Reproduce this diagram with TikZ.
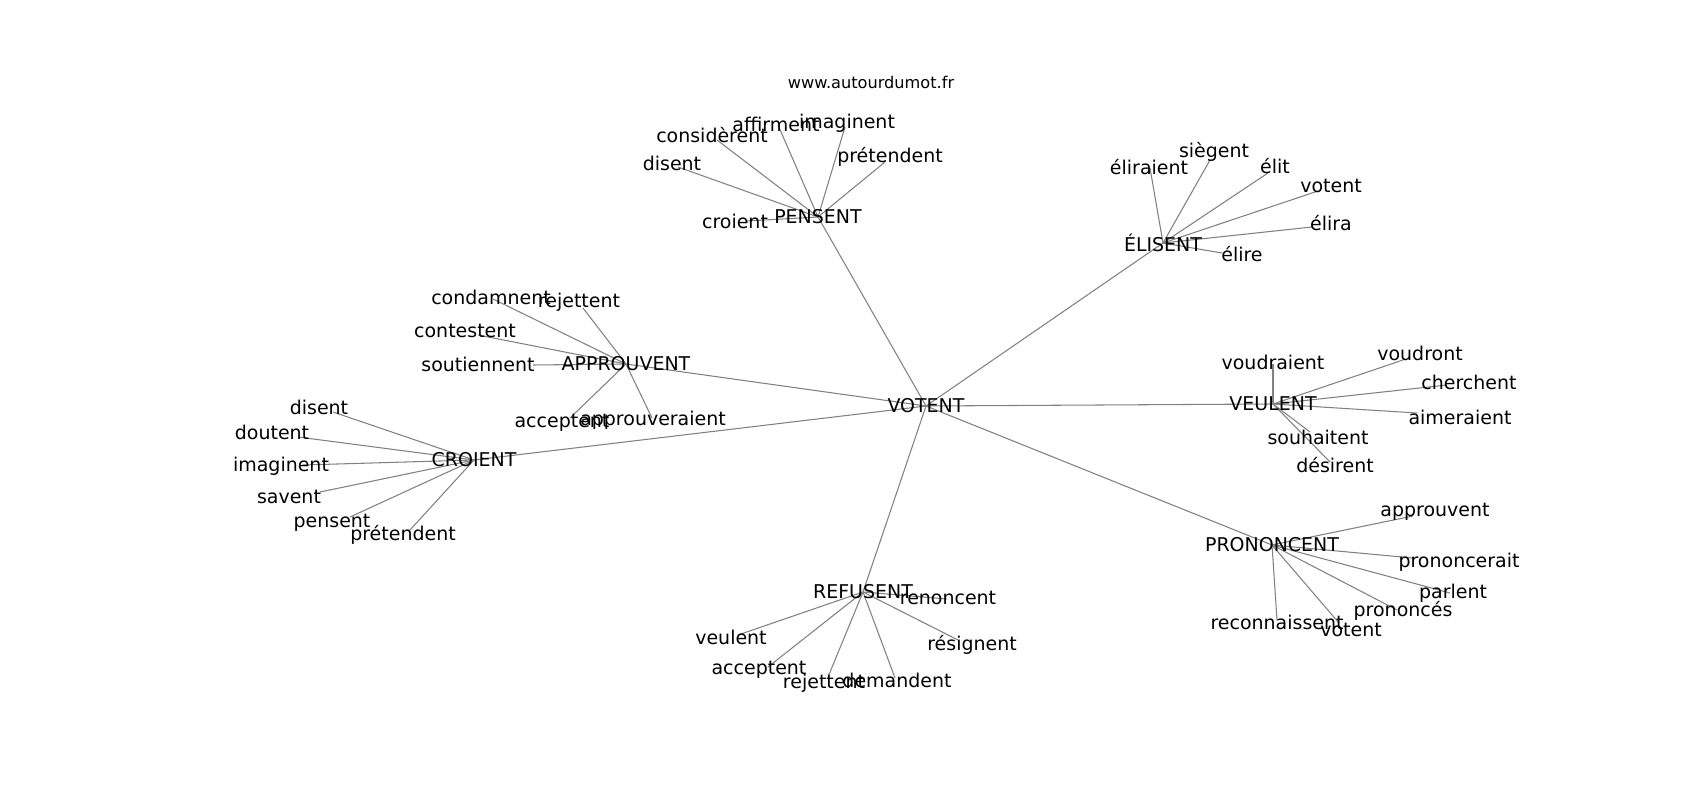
\documentclass[tikz,border=0pt]{standalone}
\usepackage{fontspec}
\setmainfont{DejaVu Sans}
\usetikzlibrary{backgrounds}
\tikzset{
  word/.style={inner sep=0,font=\fontsize{10.8}{13}\selectfont},
  link/.style={draw=gray,line width=0.6pt}
}
\begin{document}
\begin{tikzpicture}[x=0.02cm,y=-0.02cm]
  \useasboundingbox (0,0) rectangle (1700,800);
  \node [inner sep=0,font=\fontsize{9.2}{11}\selectfont] (site) at (871,82) {www.autourdumot.fr};
  % the hubs
  \node [word] (votent) at (926,406) {VOTENT};
  \node [word] (pensent) at (818,217) {PENSENT};
  \node [word] (elisent) at (1163,243) {ÉLISENT};
  \node [word] (approuvent) at (626,364) {APPROUVENT};
  \node [word] (croient) at (474,460) {CROIENT};
  \node [word] (veulent) at (1273,404) {VEULENT};
  \node [word] (prononcent) at (1272,545) {PRONONCENT};
  \node [word] (refusent) at (863,592) {REFUSENT};
  \begin{pgfonlayer}{background}
    \foreach \h in {pensent,elisent,approuvent,croient,veulent,prononcent,refusent}
      \draw [link] (votent.center) -- (\h.center);
  \end{pgfonlayer}
  % the leaves: name / end of line / place of word / word
  \foreach \hub/\list in {
    pensent/{pdis/678/167/672/163/disent, pcon/717/140/712/135/considèrent,
             paff/778/125/776/124/affirment, pima/845/127/847/123/imaginent,
             ppre/885/162/890/157/prétendent, pcro/747/221/735/221/croient},
    elisent/{eeli/1150/168/1149/167/éliraient, esie/1210/160/1214/152/siègent,
             eelt/1268/173/1275/166/élit, evot/1318/191/1331/186/votent,
             eera/1312/227/1331/223/élira, eere/1222/253/1242/254/élire},
    approuvent/{acon/493/299/491/297/condamnent, arej/583/308/579/302/rejettent,
             ates/478/335/465/331/contestent, asou/533/365/478/364/soutiennent,
             aacc/570/418/562/423/acceptent, aapp/652/418/653/420/approuveraient},
    croient/{cdis/333/412/319/407/disent, cdou/298/437/272/432/doutent,
             cima/303/465/281/466/imaginent, csav/320/492/289/497/savent,
             cpen/350/517/332/523/pensent, cpre/410/530/403/535/prétendent},
    veulent/{vvra/1273/364/1273/362/voudraient, vvro/1403/360/1420/353/voudront,
             vche/1447/385/1469/382/cherchent, vaim/1417/413/1460/417/aimeraient,
             vsou/1310/432/1318/437/souhaitent, vdes/1330/462/1335/465/désirent},
    prononcent/{rapp/1413/516/1435/512/approuvent, rpro/1413/558/1459/562/prononcerait,
             rpar/1450/593/1453/593/parlent, rpcs/1397/610/1403/611/prononcés,
             rrec/1277/620/1277/622/reconnaissent, rvot/1339/623/1351/630/votent},
    refusent/{fren/947/599/948/598/renoncent, fveu/738/635/731/637/veulent,
             fres/958/640/972/645/résignent, facc/768/667/759/670/acceptent,
             frej/828/677/824/683/rejettent, fdem/895/678/897/680/demandent}}
  {
    \foreach \nm/\ex/\ey/\lx/\ly/\txt in \list {
      \coordinate (\nm) at (\ex,\ey);
      \node [word] (\nm-txt) at (\lx,\ly) {\txt};
      \begin{pgfonlayer}{background}
        \draw [link] (\hub.center) -- (\nm);
      \end{pgfonlayer}
    }
  }
\end{tikzpicture}
\end{document}
